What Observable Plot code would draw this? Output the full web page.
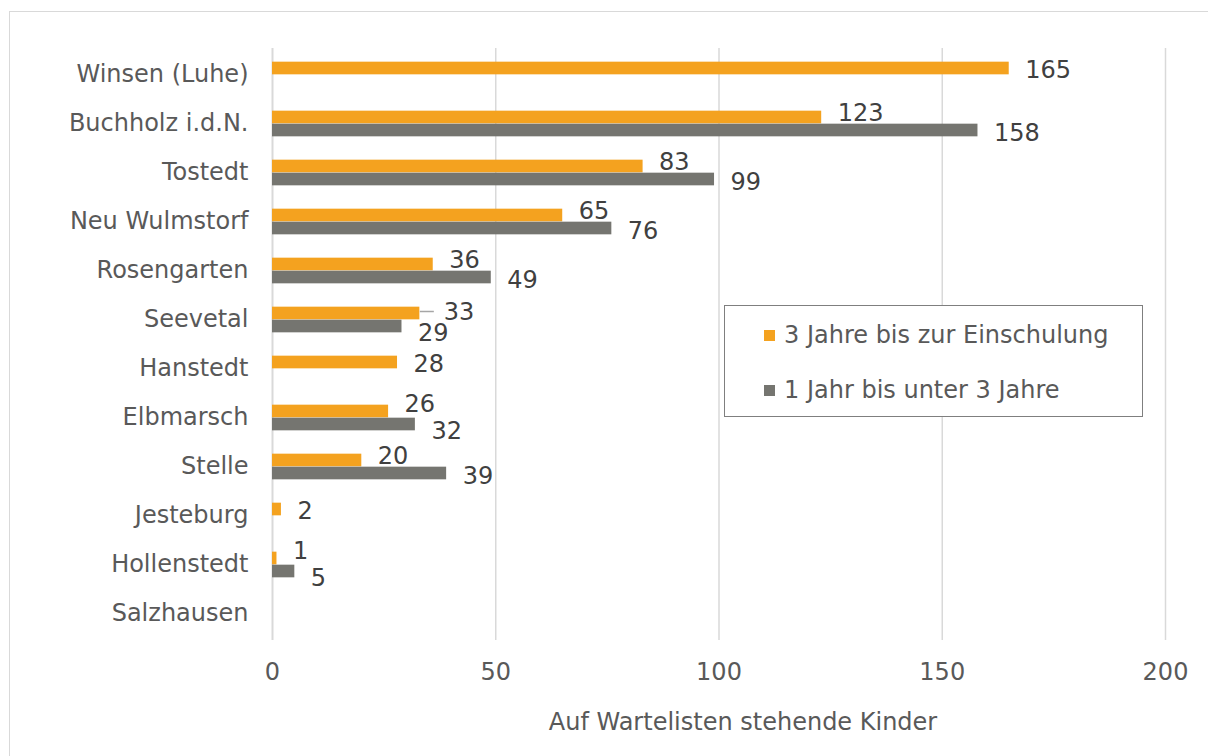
<!DOCTYPE html>
<html>
<head>
<meta charset="utf-8">
<script src="https://cdn.jsdelivr.net/npm/d3@7"></script>
<script src="https://cdn.jsdelivr.net/npm/@observablehq/plot@0.6"></script>
<style>
  html, body { margin: 0; padding: 0; background: #fff; overflow: hidden; }
  #wrap { position: relative; width: 1208px; height: 756px; overflow: hidden; font-family: "DejaVu Sans", Verdana, sans-serif; }
  #frame { position: absolute; left: 9px; top: 11px; width: 1220px; height: 780px; border: 1.5px solid #d9d9d9; box-sizing: border-box; }
  #chart { position: absolute; left: 0; top: 0; }
  #legend { position: absolute; left: 724px; top: 305px; width: 419px; height: 112px; border: 1px solid #7f7f7f; box-sizing: border-box; background: #fff; color: #595959; font-size: 24px; }
  .item { position: absolute; left: 39px; display: flex; align-items: center; height: 30px; }
  .sw { width: 11px; height: 11px; margin-right: 9px; }
</style>
</head>
<body>
<div id="wrap">
  <div id="frame"></div>
  <div id="chart"></div>
  <div id="legend">
    <div class="item" style="top:14px"><div class="sw" style="background:#F4A21F"></div><span>3 Jahre bis zur Einschulung</span></div>
    <div class="item" style="top:69px"><div class="sw" style="background:#757570"></div><span>1 Jahr bis unter 3 Jahre</span></div>
  </div>
</div>
<script>
const categories = ["Winsen (Luhe)", "Buchholz i.d.N.", "Tostedt", "Neu Wulmstorf", "Rosengarten", "Seevetal", "Hanstedt", "Elbmarsch", "Stelle", "Jesteburg", "Hollenstedt", "Salzhausen"];
const series = ["3 Jahre bis zur Einschulung", "1 Jahr bis unter 3 Jahre"];
const valuesOlder = [165, 123, 83, 65, 36, 33, 28, 26, 20, 2, 1, null];
const valuesYounger = [null, 158, 99, 76, 49, 29, null, 32, 39, null, 5, null];
const xTicks = [0, 50, 100, 150, 200];
const axisTitle = "Auf Wartelisten stehende Kinder";

const colors = ["#F4A21F", "#757570"];

const rows = categories.map((c, i) => {
  const o = valuesOlder[i], g = valuesYounger[i];
  const paired = o != null && g != null;
  const close = paired && Math.abs(o - g) <= 10;
  const leader = close && o > g;
  return {cat: c, o, g, paired, close, leader};
});
const older = rows.filter(d => d.o != null).map(d => ({
  cat: d.cat, value: d.o, leader: d.leader,
  dy: !d.paired ? -5 : d.leader ? -8 : d.close ? -14 : -11
}));
const younger = rows.filter(d => d.g != null).map(d => ({
  cat: d.cat, value: d.g, dy: d.close ? 13 : 9
}));

const W = 1208, H = 756, ml = 272, mr = 43, mt = 48, mb = 116;
const band = (H - mt - mb) / categories.length;
const barH = 13;
const fs = 24;
const pxPerUnit = (W - ml - mr) / 200;

const labelMarks = [];
for (const d of older) {
  labelMarks.push(Plot.text([d], {x: "value", y: "cat", text: e => String(e.value), textAnchor: "start", dx: d.leader ? 24 : 16, dy: d.dy, fill: "#404040", fontSize: fs}));
}
for (const d of younger) {
  labelMarks.push(Plot.text([d], {x: "value", y: "cat", text: e => String(e.value), textAnchor: "start", dx: 16, dy: d.dy, fill: "#404040", fontSize: fs}));
}

const chart = Plot.plot({
  width: W,
  height: H,
  marginLeft: ml,
  marginRight: mr,
  marginTop: mt,
  marginBottom: mb,
  style: {fontFamily: "DejaVu Sans, Verdana, sans-serif", fontSize: fs + "px", color: "#595959", background: "transparent", overflow: "visible"},
  x: {domain: [0, 200]},
  y: {domain: categories, padding: 0},
  marks: [
    Plot.ruleX(xTicks.slice(1), {stroke: "#d9d9d9", strokeWidth: 1.5}),
    Plot.ruleX([0], {stroke: "#d9d9d9", strokeWidth: 2}),
    Plot.barX(older, {x: "value", y: "cat", fill: colors[0], insetTop: band / 2 - barH, insetBottom: band / 2}),
    Plot.barX(younger, {x: "value", y: "cat", fill: colors[1], insetTop: band / 2, insetBottom: band / 2 - barH}),
    Plot.link(older.filter(d => d.leader), {x1: "value", x2: d => d.value + 14 / pxPerUnit, y1: "cat", y2: "cat", dy: -8.5, stroke: "#a6a6a6", strokeWidth: 1.5}),
    ...labelMarks,
    Plot.axisX({ticks: xTicks, tickSize: 0, tickPadding: 22, label: null, fill: "#595959", fontSize: fs}),
    Plot.axisY({tickSize: 0, tickPadding: 24, label: null, fill: "#595959", fontSize: fs, dy: -1}),
    Plot.text([axisTitle], {frameAnchor: "bottom", dx: 24, dy: 89, fill: "#595959", fontSize: fs})
  ]
});
document.getElementById("chart").appendChild(chart);
</script>
</body>
</html>
